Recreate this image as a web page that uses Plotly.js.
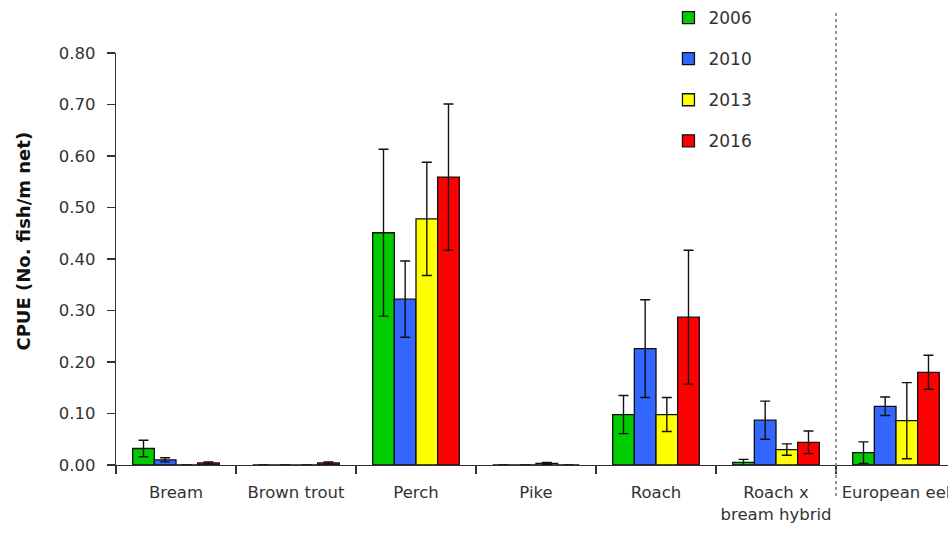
<!DOCTYPE html>
<html>
<head>
<meta charset="utf-8">
<script src="https://cdn.plot.ly/plotly-3.0.1.min.js"></script>
<style>html,body{margin:0;padding:0;background:#fff;overflow:hidden;}</style>
</head>
<body>
<div id="chart" style="width:948px;height:534px;"></div>
<script>
const categories = ["Bream", "Brown trout", "Perch", "Pike", "Roach", "Roach x<br>bream hybrid", "European eel"];
const years = ["2006", "2010", "2013", "2016"];
const colors = ["#00CC00", "#3366FF", "#FFFF00", "#FF0000"];
const yTitle = "CPUE (No. fish/m net)";

const v2006 = [0.032, 0.000, 0.451, 0.000, 0.098, 0.005, 0.024];
const e2006 = [0.016, 0.000, 0.162, 0.000, 0.037, 0.006, 0.021];
const v2010 = [0.010, 0.000, 0.322, 0.000, 0.226, 0.087, 0.114];
const e2010 = [0.004, 0.000, 0.074, 0.000, 0.095, 0.037, 0.018];
const v2013 = [0.000, 0.000, 0.478, 0.003, 0.098, 0.030, 0.086];
const e2013 = [0.000, 0.000, 0.110, 0.002, 0.033, 0.011, 0.074];
const v2016 = [0.004, 0.004, 0.559, 0.000, 0.287, 0.044, 0.180];
const e2016 = [0.002, 0.002, 0.142, 0.000, 0.130, 0.022, 0.033];

const values = [v2006, v2010, v2013, v2016];
const errors = [e2006, e2010, e2013, e2016];

const font = "'DejaVu Sans', Verdana, sans-serif";

const traces = years.map((yr, i) => ({
  type: "bar",
  name: yr,
  x: categories,
  y: values[i],
  legendgroup: yr,
  marker: {color: colors[i], line: {color: "#111", width: 1.3}},
  error_y: {type: "data", array: errors[i], visible: true, color: "#111", thickness: 1.4, width: 5}
}));

const layout = {
  width: 948, height: 534,
  margin: {l: 116, r: 0, t: 52, b: 69},
  paper_bgcolor: "#fff", plot_bgcolor: "#fff",
  font: {family: font, size: 16, color: "#333"},
  barmode: "group",
  bargap: 0.278,
  bargroupgap: 0,
  showlegend: true,
  legend: {x: 0.664, y: 1.13, xanchor: "left", yanchor: "top", tracegroupgap: 16,
           font: {family: font, size: 17, color: "#333"}, bgcolor: "rgba(0,0,0,0)"},
  xaxis: {
    type: "category", range: [-0.5, 6.4333],
    showline: true, linecolor: "#333", linewidth: 1.3,
    ticks: "outside", tickson: "boundaries", ticklen: 8, tickcolor: "#333", tickwidth: 1.3,
    ticklabelstandoff: 12, tickangle: 0,
    showgrid: false, zeroline: false,
    tickfont: {family: font, size: 16.5, color: "#333"}
  },
  yaxis: {
    range: [0, 0.8], tickvals: [0, 0.1, 0.2, 0.3, 0.4, 0.5, 0.6, 0.7, 0.8], tickformat: ".2f",
    showline: true, linecolor: "#333", linewidth: 1.3,
    ticks: "outside", ticklen: 8, tickcolor: "#333", tickwidth: 1.3,
    ticklabelstandoff: 8,
    showgrid: false, zeroline: false,
    tickfont: {family: font, size: 16.5, color: "#333"}
  },
  annotations: [{
    text: "<b>" + yTitle + "</b>", textangle: -90, showarrow: false,
    xref: "paper", yref: "paper", x: (24 - 116) / 832, y: (465 - 241) / 413,
    xanchor: "center", yanchor: "middle",
    font: {family: font, size: 18, color: "#111"}
  }],
  shapes: [{
    type: "line", xref: "x", yref: "paper", x0: 5.5, x1: 5.5, y0: -0.075, y1: 1.097,
    line: {color: "#777", width: 1.5, dash: "dot"}
  }]
};

Plotly.newPlot("chart", traces, layout, {displayModeBar: false, staticPlot: true});
</script>
</body>
</html>
